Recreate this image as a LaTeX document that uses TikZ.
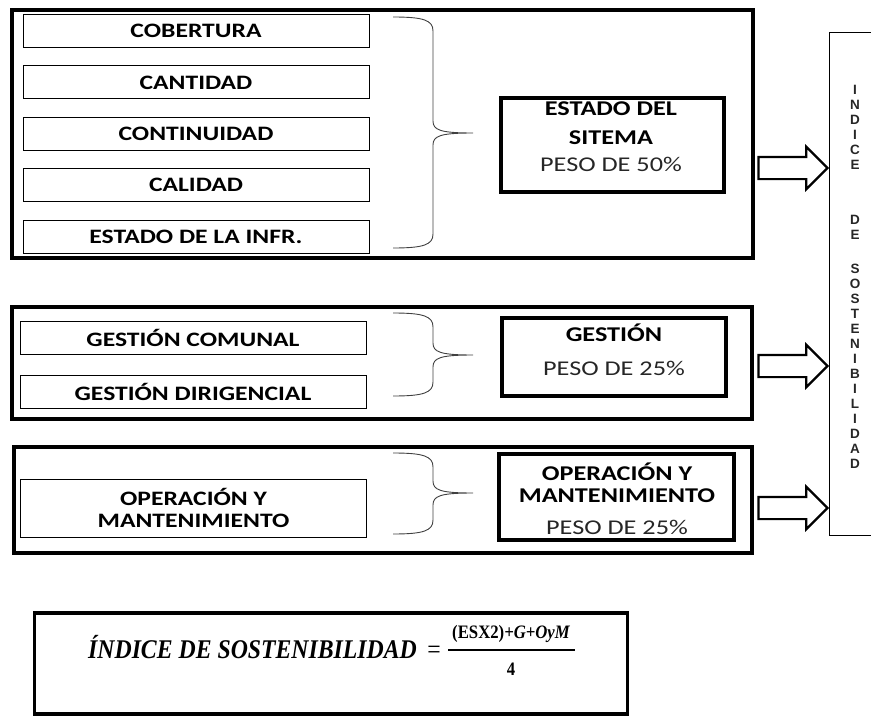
\documentclass[tikz,border=0pt]{standalone}
\usepackage{fontspec}
\usepackage{tikz}
\usetikzlibrary{shapes.arrows, positioning}
\setmainfont{Carlito}[FakeStretch=1.25]
\newfontfamily\letrafont{Liberation Sans}
\newfontfamily\formulafont{Liberation Serif}[FakeStretch=0.88]
% llave de agrupacion: y superior, y de la punta, y inferior
\newcommand{\llave}[3]{%
  \draw[line width=0.9pt, black!75] (393,#1) .. controls (423,#1) and (433,#1+3) .. (433,#1+14)
    -- (433,#2-12) .. controls (433,#2-3) and (440,#2) .. (473,#2)
    .. controls (440,#2) and (433,#2+3) .. (433,#2+12)
    -- (433,#3-14) .. controls (433,#3-3) and (423,#3) .. (393,#3);}

\begin{document}
\begin{tikzpicture}[
        x=1pt, y=-1pt,
        grupo/.style={rectangle, draw, line width=3.5pt, inner sep=0pt},
        item/.style={rectangle, draw, line width=0.9pt, inner sep=0pt, minimum width=346pt, minimum height=33pt, align=center, font=\fontsize{20.5}{21.6}\selectfont\bfseries},
        resultado/.style={rectangle, draw, line width=4pt, inner sep=0pt},
        titulo/.style={inner sep=0pt, align=center, font=\fontsize{21}{29}\selectfont\bfseries},
        peso/.style={inner sep=0pt, text=black!85, font=\fontsize{21}{24}\selectfont},
        flecha/.style={single arrow, draw, line width=2.2pt, inner sep=0pt, text height=10pt, text depth=10pt, minimum height=69pt, single arrow head extend=10pt},
        letras/.style={inner sep=0pt, align=center, text=black!85, font=\letrafont\fontsize{13.5}{15}\selectfont\bfseries},
        node distance=17.5pt and 20pt
    ]
        \useasboundingbox (0,0) rectangle (871,717);
        % estado del sistema
        \node[grupo, minimum width=741pt, minimum height=248pt] (grupoA) at (382.5,134) {};
        \node[item] (cob) at (196,31) {COBERTURA};
        \node[item, below=of cob] (cant) {CANTIDAD};
        \node[item, below=of cant] (cont) {CONTINUIDAD};
        \node[item, below=of cont] (cal) {CALIDAD};
        \node[item, below=of cal] (infr) {ESTADO DE LA INFR.};
        \llave{17}{133}{248}
        \node[resultado, minimum width=223pt, minimum height=94pt] (estado) at (612,145) {};
        \node[titulo] (estadotit) at (611,123) {ESTADO DEL\\SITEMA};
        \node[peso] (estadopeso) at (611,164) {PESO DE 50\%};
        % gestion
        \node[grupo, minimum width=740pt, minimum height=112pt] (grupoB) at (382,363) {};
        \node[item] (gcom) at (193,337.5) {GESTIÓN COMUNAL};
        \node[item, below=21pt of gcom] (gdir) {GESTIÓN DIRIGENCIAL};
        \llave{313}{355}{396}
        \node[resultado, minimum width=224pt, minimum height=78pt] (gestion) at (614,357) {};
        \node[titulo] (gestiontit) at (614,333) {GESTIÓN};
        \node[peso] (gestionpeso) at (614,368) {PESO DE 25\%};
        % operacion y mantenimiento
        \node[grupo, minimum width=738pt, minimum height=106pt] (grupoC) at (383,500) {};
        \node[item, minimum height=58pt] (oym) at (193.5,508) {OPERACIÓN Y\\MANTENIMIENTO};
        \llave{453}{493}{534}
        \node[resultado, minimum width=235pt, minimum height=86pt] (oymres) at (616.5,497) {};
        \node[titulo, font=\fontsize{21}{21.6}\selectfont\bfseries] (oymtit) at (617,482.5) {OPERACIÓN Y\\MANTENIMIENTO};
        \node[peso] (oympeso) at (617,527) {PESO DE 25\%};
        % indice de sostenibilidad
        \node[minimum width=42pt, minimum height=502pt, inner sep=0pt, anchor=north west] (indice) at (829,33) {};
        \draw[line width=1pt] (indice.north east) -- (indice.north west) -- (indice.south west) -- (indice.south east);
        \node[letras] (ind) at (855,127.5) {I\\N\\D\\I\\C\\E};
        \node[letras] (de) at (855,227) {D\\E};
        \node[letras] (sost) at (855,366) {S\\O\\S\\T\\E\\N\\I\\B\\I\\L\\I\\D\\A\\D};
        \node[flecha, anchor=tip] (f1) at (829,168) {};
        \node[flecha, anchor=tip] (f2) at (829,366) {};
        \node[flecha, anchor=tip] (f3) at (829,508) {};
        % formula
        \node[grupo, minimum width=593pt, minimum height=101pt] (formula) at (331,663.5) {};
        \node[anchor=west, inner sep=0pt, font=\formulafont\fontsize{27}{30}\selectfont\bfseries\itshape] (ftexto) at (88,647) {ÍNDICE DE SOSTENIBILIDAD {\upshape\mdseries\,=}};
        \node[inner sep=0pt, font=\formulafont\fontsize{19}{22}\selectfont\bfseries] (fnum) at (511,634) {(ESX2){\itshape+G+OyM}};
        \node[inner sep=0pt, font=\formulafont\fontsize{19}{22}\selectfont\bfseries] (fden) at (511,669) {4};
        \draw[line width=1.4pt] (448,650) -- (575,650);
    \end{tikzpicture}
\end{document}
